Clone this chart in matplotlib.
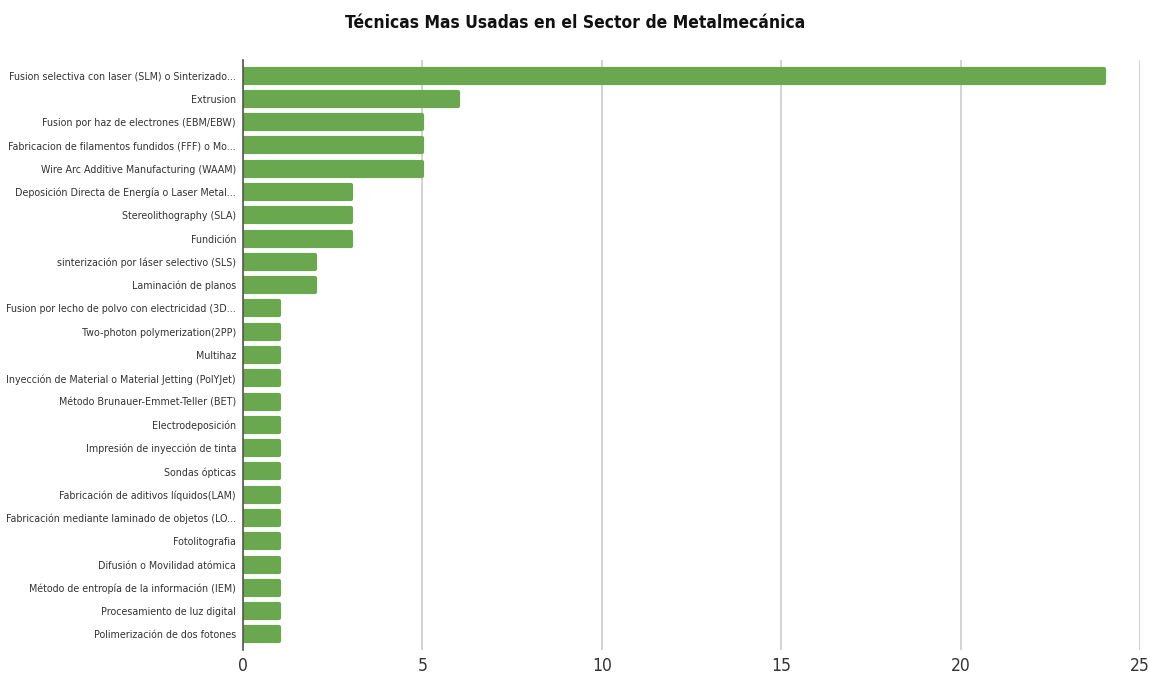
import matplotlib.pyplot as plt
import numpy as np

plt.rcParams['font.family'] = ['DejaVu Sans']
plt.rcParams['font.stretch'] = 'condensed'

tecnicas = [
    'Fusion selectiva con laser (SLM) o Sinterizado...',
    'Extrusion',
    'Fusion por haz de electrones (EBM/EBW)',
    'Fabricacion de filamentos fundidos (FFF) o Mo...',
    'Wire Arc Additive Manufacturing (WAAM)',
    'Deposición Directa de Energía o Laser Metal...',
    'Stereolithography (SLA)',
    'Fundición',
    'sinterización por láser selectivo (SLS)',
    'Laminación de planos',
    'Fusion por lecho de polvo con electricidad (3D...',
    'Two-photon polymerization(2PP)',
    'Multihaz',
    'Inyección de Material o Material Jetting (PolYJet)',
    'Método Brunauer-Emmet-Teller (BET)',
    'Electrodeposición',
    'Impresión de inyección de tinta',
    'Sondas ópticas',
    'Fabricación de aditivos líquidos(LAM)',
    'Fabricación mediante laminado de objetos (LO...',
    'Fotolitografia',
    'Difusión o Movilidad atómica',
    'Método de entropía de la información (IEM)',
    'Procesamiento de luz digital',
    'Polimerización de dos fotones',
]
usos = [24, 6, 5, 5, 5, 3, 3, 3, 2, 2, 1, 1, 1, 1, 1, 1, 1, 1, 1, 1, 1, 1, 1, 1, 1]

verde = '#6aa84f'

fig = plt.figure(figsize=(11.5, 6.79), dpi=100)
ax = fig.add_axes([0.2113, 0.0427, 0.78, 0.8689])

y = np.arange(len(tecnicas))
# borde grueso con union redondeada -> extremos redondeados
ax.barh(y, usos, height=0.6, color=verde, edgecolor=verde, linewidth=3,
        joinstyle='round', zorder=3)

ax.set_yticks(y)
ax.set_yticklabels(tecnicas, fontsize=7.7, color='#333333')
ax.set_ylim(len(tecnicas) - 0.33, -0.67)
ax.set_xlim(0, 25)
ax.set_xticks([0, 5, 10, 15, 20, 25])
ax.tick_params(axis='x', labelsize=12.5, length=0, pad=5, colors='#333333')
ax.tick_params(axis='y', length=0, pad=5)

ax.grid(axis='x', color='#cccccc', linewidth=1.2, zorder=0)
ax.grid(axis='y', visible=False)
for s in ['top', 'right', 'bottom']:
    ax.spines[s].set_visible(False)
ax.spines['left'].set_color('#555555')
ax.spines['left'].set_linewidth(1.2)
ax.spines['left'].set_zorder(4)

fig.suptitle('Técnicas Mas Usadas en el Sector de Metalmecánica', fontsize=12.5,
             fontweight='bold', x=0.5, y=0.979, color='#111111')

fig.savefig('out.png', dpi=100)
